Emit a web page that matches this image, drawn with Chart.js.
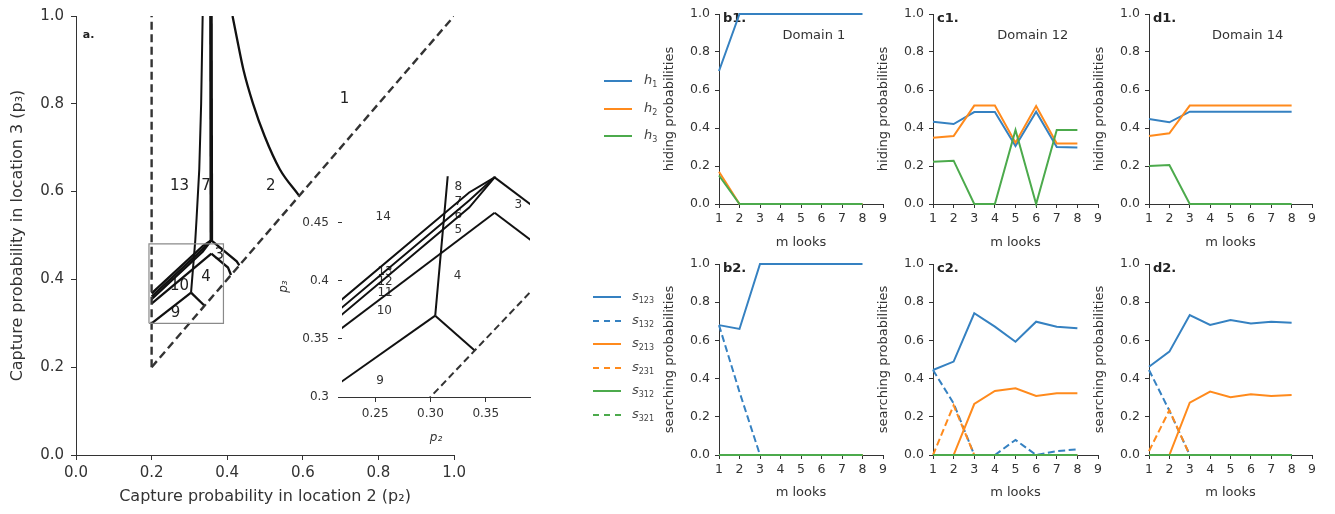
<!DOCTYPE html>
<html><head><meta charset="utf-8">
<script src="https://cdn.jsdelivr.net/npm/chart.js@4.4.1/dist/chart.umd.min.js"></script>
<style>
html,body{margin:0;padding:0;background:#fff}
body{width:1335px;height:514px;position:relative;overflow:hidden;font-family:'DejaVu Sans',sans-serif}
canvas{position:absolute}
.li{position:absolute;width:28px;height:0;border-top-width:2px}
.lt{position:absolute;font-size:13px;color:#444;line-height:16px}
.lt i{font-family:'DejaVu Sans',sans-serif;font-style:italic}
.lt sub{font-size:8px;vertical-align:-3px}
</style></head><body>
<canvas id="cA" style="left:0;top:0" width="470" height="514"></canvas>
<canvas id="cIn" style="left:270px;top:160px" width="275" height="295"></canvas>
<canvas id="cB1" style="left:655px;top:0" width="240" height="257"></canvas>
<canvas id="cC1" style="left:869px;top:0" width="241" height="257"></canvas>
<canvas id="cD1" style="left:1085px;top:0" width="239" height="257"></canvas>
<canvas id="cB2" style="left:655px;top:250px" width="240" height="264"></canvas>
<canvas id="cC2" style="left:869px;top:250px" width="241" height="264"></canvas>
<canvas id="cD2" style="left:1085px;top:250px" width="239" height="264"></canvas>
<div id="legH"></div>
<div id="legS"></div>
<script>
// ---------------- DATA ----------------
// panel a: domain boundaries, [p2, p3] pairs
const bndVertDash = [[0.2,0.2],[0.2,1.0]];
const bndDiagDash = [[0.2,0.2],[1.0,1.0]];
const bndCurve12 = [[0.414,1.0],[0.425,0.952],[0.443,0.877],[0.468,0.801],[0.499,0.726],[0.539,0.651],[0.589,0.592]];
const bndVert357 = [[0.357,1.0],[0.358,0.489]];
const bndCurve8 = [[0.335,1.0],[0.331,0.80],[0.326,0.65],[0.319,0.54],[0.3156,0.49],[0.3043,0.370]];
const bndLine9 = [[0.2,0.30],[0.3043,0.370]];
const bndLine9b = [[0.3043,0.370],[0.340,0.340]];
const bndLineA = [[0.2,0.368],[0.335,0.476],[0.358,0.489]];
const bndLineB = [[0.2,0.361],[0.335,0.469],[0.358,0.489]];
const bndLineC = [[0.2,0.355],[0.335,0.463],[0.358,0.489]];
const bndLineD = [[0.2,0.345],[0.358,0.4586]];
const bndLine3a = [[0.358,0.489],[0.425,0.441],[0.432,0.432]];
const bndLine3b = [[0.358,0.4586],[0.402,0.427],[0.41,0.41]];
const zoomBox = [[0.193,0.30],[0.39,0.30],[0.39,0.481],[0.193,0.481],[0.193,0.30]];

const mainLabels = ['1','2','13','7','3','4','10','9'];
const mainLabelP2 = [0.7105,0.515,0.2737,0.3439,0.3789,0.3439,0.2737,0.2632];
const mainLabelP3 = [0.8108,0.6133,0.6133,0.6133,0.456,0.4041,0.3837,0.3235];

const insetLabels = ['14','8','7','6','5','4','3','13','12','11','10','9'];
const insetLabelP2 = [0.2573,0.3252,0.3252,0.3252,0.3252,0.3246,0.3794,0.2589,0.2589,0.2589,0.2583,0.2544];
const insetLabelP3 = [0.4554,0.4808,0.4678,0.4569,0.444,0.4043,0.4655,0.408,0.3994,0.3894,0.3744,0.3141];

const insetXTicks = [0.25,0.30,0.35];
const insetXTickLabels = ['0.25','0.30','0.35'];
const insetYTicks = [0.30,0.35,0.40,0.45];
const insetYTickLabels = ['0.3','0.35','0.4','0.45'];

// panels b-d
const mLooks = [1,2,3,4,5,6,7,8];
const b1_h1 = [0.70,1,1,1,1,1,1,1];
const b1_h2 = [0.17,0,0,0,0,0,0,0];
const b1_h3 = [0.15,0,0,0,0,0,0,0];
const c1_h1 = [0.433,0.421,0.484,0.484,0.305,0.486,0.300,0.298];
const c1_h2 = [0.349,0.358,0.518,0.518,0.323,0.516,0.319,0.319];
const c1_h3 = [0.223,0.228,0,0,0.390,0,0.390,0.390];
const d1_h1 = [0.447,0.430,0.486,0.486,0.486,0.486,0.486,0.486];
const d1_h2 = [0.358,0.372,0.518,0.518,0.518,0.518,0.518,0.518];
const d1_h3 = [0.200,0.205,0,0,0,0,0,0];

const b2_s123 = [0.68,0.66,1,1,1,1,1,1];
const b2_s132 = [0.68,0.33,0,0,0,0,0,0];
const b2_s213 = [0,0,0,0,0,0,0,0];
const b2_s231 = [0,0,0,0,0,0,0,0];
const b2_s312 = [0,0,0,0,0,0,0,0];
const b2_s321 = [0,0,0,0,0,0,0,0];
const c2_s123 = [0.445,0.489,0.742,0.672,0.593,0.698,0.672,0.663];
const c2_s132 = [0.445,0.27,0,0,0.079,0,0.02,0.03];
const c2_s213 = [0,0,0.267,0.335,0.349,0.309,0.323,0.323];
const c2_s231 = [0,0.26,0,0,0,0,0,0];
const c2_s312 = [0,0,0,0,0,0,0,0];
const c2_s321 = [0,0,0,0,0,0,0,0];
const d2_s123 = [0.462,0.541,0.733,0.681,0.707,0.689,0.698,0.693];
const d2_s132 = [0.445,0.232,0,0,0,0,0,0];
const d2_s213 = [0,0,0.274,0.332,0.302,0.318,0.309,0.314];
const d2_s231 = [0.02,0.235,0,0,0,0,0,0];
const d2_s312 = [0,0,0,0,0,0,0,0];
const d2_s321 = [0,0,0,0,0,0,0,0];

const hLegend = ['1','2','3'];
const sLegend = ['123','132','213','231','312','321'];

// ---------------- DRAWING ----------------
const FONT = "'DejaVu Sans', sans-serif";
Chart.defaults.font.family = FONT;
Chart.defaults.color = '#333';
const INK = '#333';
const BLUE = '#3581c1', ORANGE = '#ff8a1c', GREEN = '#4caa4c';

function pairs(a){ return a.map(p => ({x:p[0], y:p[1]})); }
function pts(xs, ys){ return xs.map((x,i) => ({x:x, y:ys[i]})); }

function textPlugin(items){
  return {
    id: 'txt',
    beforeDatasetsDraw(chart){
      const ctx = chart.ctx; ctx.save();
      for (const t of items){
        const x = chart.scales.x.getPixelForValue(t.x) + (t.dx || 0);
        const y = chart.scales.y.getPixelForValue(t.y) + (t.dy || 0);
        ctx.font = t.font; ctx.fillStyle = t.color || '#222';
        ctx.textAlign = t.align || 'center'; ctx.textBaseline = t.base || 'middle';
        ctx.fillText(t.text, x, y);
      }
      ctx.restore();
    }
  };
}

function lineDs(arr, opt){
  return Object.assign({data: pairs(arr), showLine: true, pointRadius: 0, borderColor: '#111',
    borderWidth: 2.3, tension: 0, fill: false}, opt || {});
}

const commonOpts = {responsive:false, animation:false, devicePixelRatio:1, events:[],
  plugins:{legend:{display:false}, tooltip:{enabled:false}}};

// ---- panel a ----
const mainDs = [
  lineDs(zoomBox, {borderColor:'#8a8a8a', borderWidth:1.2}),
  lineDs(bndVertDash, {borderColor:'#333', borderWidth:2.4, borderDash:[8,4.5]}),
  lineDs(bndDiagDash, {borderColor:'#333', borderWidth:2.4, borderDash:[8,4.5]}),
  lineDs(bndCurve12, {tension:0.4, cubicInterpolationMode:'monotone'}),
  lineDs(bndVert357, {borderWidth:3.6}),
  lineDs(bndCurve8, {borderWidth:2}),
  lineDs(bndLine9), lineDs(bndLine9b),
  lineDs(bndLineA), lineDs(bndLineB), lineDs(bndLineC), lineDs(bndLineD),
  lineDs(bndLine3a), lineDs(bndLine3b)
];
const mainItems = mainLabels.map((t,i) => ({text:t, x:mainLabelP2[i], y:mainLabelP3[i], font:'15px '+FONT}));
mainItems.push({text:'a.', x:0.018, y:0.957, font:'bold 11px '+FONT, align:'left'});

new Chart(document.getElementById('cA'), {
  type:'scatter',
  data:{datasets: mainDs},
  options: Object.assign({}, commonOpts, {
    layout:{padding:{top:12, right:14, left:0, bottom:0}},
    scales:{
      x:{type:'linear', min:0, max:1,
        ticks:{stepSize:0.2, callback:v => v.toFixed(1), font:{size:15}, color:INK, padding:4},
        grid:{drawOnChartArea:false, tickLength:5, color:INK}, border:{color:INK, width:1},
        title:{display:true, text:'Capture probability in location 2 (p\u2082)', font:{size:16}, color:INK, padding:{top:0, bottom:8}},
        afterFit: s => { s.height = 59; }},
      y:{type:'linear', min:0, max:1,
        ticks:{stepSize:0.2, callback:v => v.toFixed(1), font:{size:15}, color:INK, padding:7},
        grid:{drawOnChartArea:false, tickLength:5, color:INK}, border:{color:INK, width:1},
        title:{display:true, text:'Capture probability in location 3 (p\u2083)', font:{size:16}, color:INK, padding:{top:8, bottom:0}},
        afterFit: s => { s.width = 76; }}
    }
  }),
  plugins:[textPlugin(mainItems)]
});

// ---- inset ----
const insetDs = [
  lineDs(bndDiagDash, {borderColor:'#333', borderWidth:2, borderDash:[7,4], clip:0}),
  lineDs(bndVert357, {borderWidth:2, clip:0}),
  lineDs(bndCurve8, {borderWidth:2, clip:0}),
  lineDs(bndLine9, {borderWidth:2, clip:0}), lineDs(bndLine9b, {borderWidth:2, clip:0}),
  lineDs(bndLineA, {borderWidth:2, clip:0}), lineDs(bndLineB, {borderWidth:2, clip:0}),
  lineDs(bndLineC, {borderWidth:2, clip:0}), lineDs(bndLineD, {borderWidth:2, clip:0}),
  lineDs(bndLine3a, {borderWidth:2, clip:0}), lineDs(bndLine3b, {borderWidth:2, clip:0})
];
const insetItems = insetLabels.map((t,i) => ({text:t, x:insetLabelP2[i], y:insetLabelP3[i], font:'12px '+FONT, color:'#333'}));
new Chart(document.getElementById('cIn'), {
  type:'scatter',
  data:{datasets: insetDs},
  options: Object.assign({}, commonOpts, {
    layout:{padding:{top:16, right:15, left:0, bottom:0}},
    scales:{
      x:{type:'linear', min:0.22, max:0.39,
        afterBuildTicks: s => { s.ticks = insetXTicks.map(v => ({value:v})); },
        ticks:{callback:(v,i) => insetXTickLabels[i], font:{size:12}, color:INK, padding:5, autoSkip:false, maxRotation:0},
        grid:{drawOnChartArea:false, tickLength:5, color:INK}, border:{color:INK, width:1},
        title:{display:true, text:'p\u2082', font:{size:12, style:'italic'}, color:INK, padding:{top:0, bottom:10}},
        afterFit: s => { s.height = 58; }},
      y:{type:'linear', min:0.30, max:0.49,
        afterBuildTicks: s => { s.ticks = insetYTicks.map(v => ({value:v})); },
        ticks:{callback:(v,i) => insetYTickLabels[i], font:{size:12}, color:INK, padding:9, autoSkip:false},
        grid:{drawOnChartArea:false, tickLength:4, color:INK}, border:{display:false},
        title:{display:true, text:'p\u2083', font:{size:12, style:'italic'}, color:INK, padding:{top:7, bottom:0}},
        afterFit: s => { s.width = 72; }}
    }
  }),
  plugins:[textPlugin(insetItems)]
});

// ---- small panels ----
function smallPanel(id, series, ytitle, top, items){
  const datasets = series.map((s,i) => ({data: pts(mLooks, s.v), showLine:true, pointRadius:0,
    borderColor:s.c, borderWidth:2, borderDash: s.d ? [7,3.5] : [], tension:0, fill:false,
    clip:3, order: series.length - i}));
  const xh = top ? 53 : 59, pb = top ? 6.2 : 13.2;
  new Chart(document.getElementById(id), {
    type:'scatter',
    data:{datasets},
    options: Object.assign({}, commonOpts, {
      layout:{padding:{top:14, right:12, left:0, bottom:0}},
      scales:{
        x:{type:'linear', min:1, max:9,
          ticks:{stepSize:1, callback:v => String(v), font:{size:12.5}, color:INK, padding:3, autoSkip:false, maxRotation:0},
          grid:{drawOnChartArea:false, tickLength:4, color:INK}, border:{color:INK, width:1},
          title:{display:true, text:'m looks', font:{size:13}, color:INK, padding:{top:0, bottom:pb}},
          afterFit: s => { s.height = xh; }},
        y:{type:'linear', min:0, max:1,
          ticks:{stepSize:0.2, callback:v => v.toFixed(1), font:{size:12.5}, color:INK, padding:5},
          grid:{drawOnChartArea:false, tickLength:4, color:INK}, border:{color:INK, width:1},
          title:{display:true, text:ytitle, font:{size:13}, color:INK, padding:{top:6.5, bottom:0}},
          afterFit: s => { s.width = 64; }}
      }
    }),
    plugins:[textPlugin(items)]
  });
}
function lab(t){ return {text:t, x:1, y:1.0, dx:4, dy:-2, font:'bold 13px '+FONT, align:'left', base:'top', color:'#222'}; }
function dom(t, x){ return {text:t, x:x, y:0.884, font:'13px '+FONT, color:'#333'}; }

smallPanel('cB1', [{v:b1_h1,c:BLUE},{v:b1_h2,c:ORANGE},{v:b1_h3,c:GREEN}], 'hiding probabilities', true, [lab('b1.'), dom('Domain 1', 5.63)]);
smallPanel('cC1', [{v:c1_h1,c:BLUE},{v:c1_h2,c:ORANGE},{v:c1_h3,c:GREEN}], 'hiding probabilities', true, [lab('c1.'), dom('Domain 12', 5.84)]);
smallPanel('cD1', [{v:d1_h1,c:BLUE},{v:d1_h2,c:ORANGE},{v:d1_h3,c:GREEN}], 'hiding probabilities', true, [lab('d1.'), dom('Domain 14', 5.84)]);
smallPanel('cB2', [{v:b2_s123,c:BLUE},{v:b2_s132,c:BLUE,d:1},{v:b2_s213,c:ORANGE},{v:b2_s231,c:ORANGE,d:1},{v:b2_s312,c:GREEN},{v:b2_s321,c:GREEN,d:1}], 'searching probabilities', false, [lab('b2.')]);
smallPanel('cC2', [{v:c2_s123,c:BLUE},{v:c2_s132,c:BLUE,d:1},{v:c2_s213,c:ORANGE},{v:c2_s231,c:ORANGE,d:1},{v:c2_s312,c:GREEN},{v:c2_s321,c:GREEN,d:1}], 'searching probabilities', false, [lab('c2.')]);
smallPanel('cD2', [{v:d2_s123,c:BLUE},{v:d2_s132,c:BLUE,d:1},{v:d2_s213,c:ORANGE},{v:d2_s231,c:ORANGE,d:1},{v:d2_s312,c:GREEN},{v:d2_s321,c:GREEN,d:1}], 'searching probabilities', false, [lab('d2.')]);

// ---- legends ----
function legend(el, sym, subs, colors, dashes, lineX, textX, y0, dy){
  let html = '';
  subs.forEach((s,i) => {
    const y = y0 + i*dy;
    html += '<div class="li" style="left:'+lineX+'px;top:'+(y-1)+'px;border-top-style:'+(dashes[i]?'dashed':'solid')+';border-top-color:'+colors[i]+'"></div>';
    html += '<div class="lt" style="left:'+textX+'px;top:'+(y-9)+'px"><i>'+sym+'</i><sub>'+s+'</sub></div>';
  });
  document.getElementById(el).innerHTML = html;
}
legend('legH', 'h', hLegend, [BLUE,ORANGE,GREEN], [0,0,0], 604, 644, 81, 27.5);
legend('legS', 's', sLegend, [BLUE,BLUE,ORANGE,ORANGE,GREEN,GREEN], [0,1,0,1,0,1], 593, 632, 297, 23.5);
</script>
</body></html>
